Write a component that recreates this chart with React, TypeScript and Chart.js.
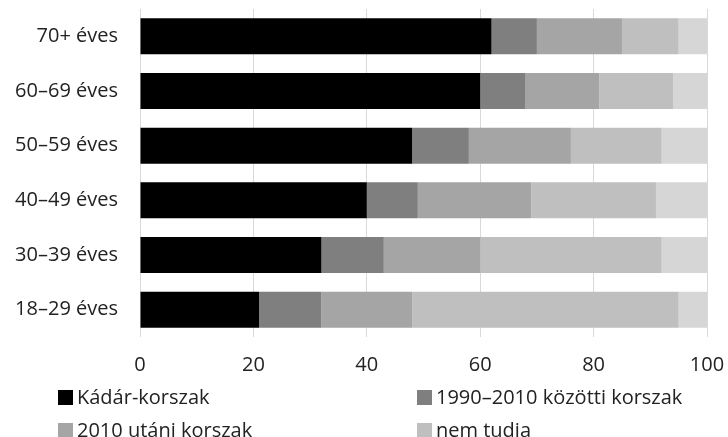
import React, { useEffect, useRef } from "react";
import { Chart, registerables } from "chart.js";

Chart.register(...registerables);

const categories = ["70+ éves", "60–69 éves", "50–59 éves", "40–49 éves", "30–39 éves", "18–29 éves"];
const kadar = [62, 60, 48, 40, 32, 21];
const between = [8, 8, 10, 9, 11, 11];
const after2010 = [15, 13, 18, 20, 17, 16];
const nemTudja = [10, 13, 16, 22, 32, 47];
const other = [5, 6, 8, 9, 8, 5];
const xTicks = [0, 20, 40, 60, 80, 100];

const seriesNames = ["Kádár-korszak", "1990–2010 közötti korszak", "2010 utáni korszak", "nem tudia", ""];
const colors = ["#000000", "#7f7f7f", "#a5a5a5", "#bfbfbf", "#d6d6d6"];

const FONT = "'Open Sans', sans-serif";

export default function App() {
  const ref = useRef<HTMLCanvasElement | null>(null);
  useEffect(() => {
    const ctx = ref.current;
    if (!ctx) return;
    const data = [kadar, between, after2010, nemTudja, other];
    const chart = new Chart(ctx, {
      type: "bar",
      data: {
        labels: categories,
        datasets: data.map((d, i) => ({
          label: seriesNames[i],
          data: d,
          backgroundColor: colors[i],
          borderWidth: 0,
          categoryPercentage: 0.66,
          barPercentage: 1,
        })),
      },
      options: {
        indexAxis: "y",
        animation: false,
        responsive: false,
        maintainAspectRatio: false,
        layout: { padding: { top: 9, right: 21, left: 0, bottom: 0 } },
        plugins: {
          legend: { display: false },
          tooltip: { enabled: false },
        },
        scales: {
          x: {
            stacked: true,
            min: 0,
            max: 100,
            afterBuildTicks: (s: any) => {
              s.ticks = xTicks.map((v) => ({ value: v }));
            },
            afterFit: (s: any) => {
              s.height = 100;
              s.paddingLeft = 0;
              s.paddingRight = 0;
            },
            grid: { color: "#d9d9d9", lineWidth: 1, drawTicks: false },
            border: { display: false },
            ticks: { color: "#222", font: { family: FONT, size: 20 }, padding: 16, maxRotation: 0 },
          },
          y: {
            stacked: true,
            afterFit: (s: any) => {
              s.width = 140;
              s.paddingTop = 0;
              s.paddingBottom = 0;
            },
            grid: { display: false, drawTicks: false },
            border: { display: false },
            ticks: { color: "#222", font: { family: FONT, size: 20 }, padding: 22 },
          },
        },
      },
    });
    return () => chart.destroy();
  }, []);

  const legendItem = (i: number, left: number, centerY: number) => (
    <div
      key={i}
      style={{
        position: "absolute",
        left,
        top: centerY - 14,
        height: 28,
        display: "flex",
        alignItems: "center",
        fontFamily: FONT,
        fontSize: 20,
        color: "#222",
        whiteSpace: "nowrap",
        lineHeight: "28px",
      }}
    >
      <span style={{ display: "inline-block", width: 15, height: 15, background: colors[i], marginRight: 4 }} />
      {seriesNames[i]}
    </div>
  );

  return (
    <div style={{ position: "fixed", left: 0, top: 0, width: 728, height: 437, background: "#fff", overflow: "hidden" }}>
      <canvas ref={ref} width={728} height={437} style={{ display: "block" }} />
      {legendItem(0, 58, 397)}
      {legendItem(1, 417, 397)}
      {legendItem(2, 58, 430)}
      {legendItem(3, 417, 430)}
    </div>
  );
}
